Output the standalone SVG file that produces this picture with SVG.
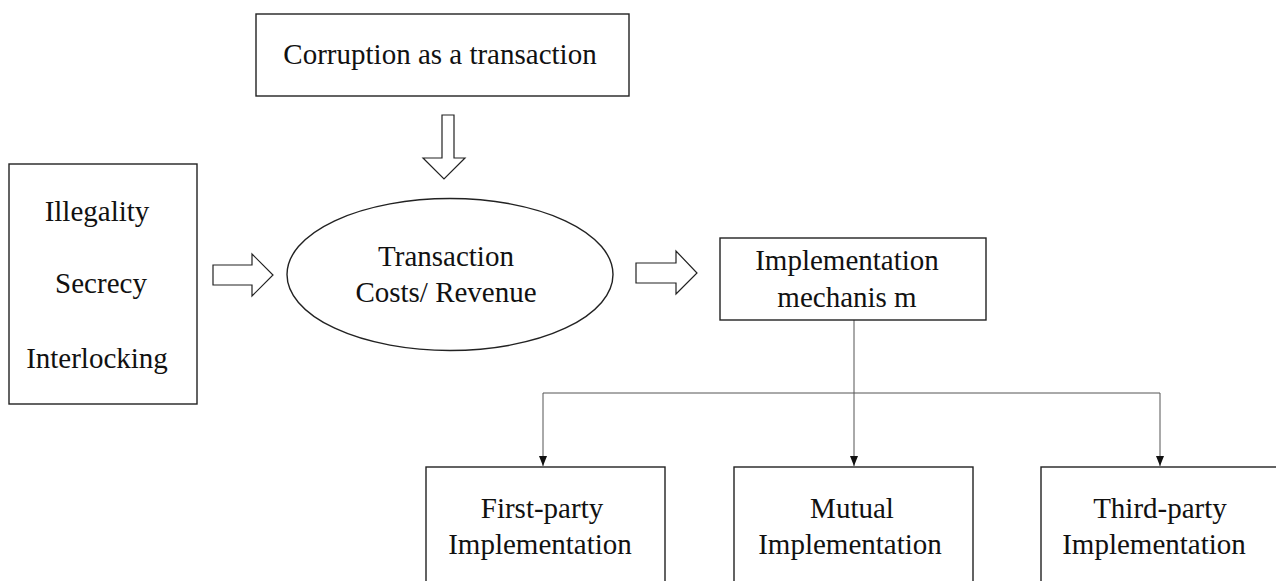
<svg xmlns="http://www.w3.org/2000/svg" width="1276" height="581" viewBox="0 0 1276 581">
<defs>
<style>
.box{fill:#fff;stroke:#222;stroke-width:1.4}
.blk{fill:#fff;stroke:#222;stroke-width:1.2;stroke-linejoin:miter}
.t{font-family:"Liberation Serif","Times New Roman",serif;font-size:29px;fill:#111;text-anchor:middle}
.ln{fill:none;stroke:#555;stroke-width:1}
</style>
<marker id="ah" markerWidth="10" markerHeight="10" viewBox="0 0 10 10" refX="10" refY="5" orient="auto" markerUnits="userSpaceOnUse">
<path d="M0,1 L10,5 L0,9 Z" fill="#111"/>
</marker>
</defs>
<rect width="1276" height="581" fill="#fff"/>

<g id="connectors">
<polygon class="blk" points="442,115 454,115 454,158 465,158 444,179 423,158 442,158"/>
<polygon class="blk" points="213,265 252,265 252,254 273,275 252,296 252,285 213,285"/>
<polygon class="blk" points="636,263 676,263 676,251 697,273 676,294 676,283 636,283"/>
<path class="ln" d="M854,320 V393"/>
<path class="ln" d="M543,393 H1160"/>
<path class="ln" d="M543,393 V466" marker-end="url(#ah)"/>
<path class="ln" d="M854,393 V466" marker-end="url(#ah)"/>
<path class="ln" d="M1160,393 V466" marker-end="url(#ah)"/>
</g>

<g id="corruption">
<rect class="box" x="256" y="14" width="373" height="82"/>
<text class="t" x="440" y="64">Corruption as a transaction</text>
</g>

<g id="factors">
<rect class="box" x="9" y="164" width="188" height="240"/>
<text class="t" x="97" y="221">Illegality</text>
<text class="t" x="101" y="293">Secrecy</text>
<text class="t" x="97" y="368">Interlocking</text>
</g>

<g id="transaction">
<ellipse class="box" cx="450" cy="274.5" rx="163" ry="76"/>
<text class="t" x="446" y="266">Transaction</text>
<text class="t" x="446" y="302">Costs/ Revenue</text>
</g>

<g id="mechanism">
<rect class="box" x="720" y="238" width="266" height="82"/>
<text class="t" x="847" y="270">Implementation</text>
<text class="t" x="847" y="307">mechanis m</text>
</g>

<g id="first-party">
<rect class="box" x="426" y="467" width="239" height="130"/>
<text class="t" x="542" y="518">First-party</text>
<text class="t" x="540" y="554">Implementation</text>
</g>

<g id="mutual">
<rect class="box" x="734" y="467" width="239" height="130"/>
<text class="t" x="852" y="518">Mutual</text>
<text class="t" x="850" y="554">Implementation</text>
</g>

<g id="third-party">
<rect class="box" x="1041" y="467" width="239" height="130"/>
<text class="t" x="1160" y="518">Third-party</text>
<text class="t" x="1154" y="554">Implementation</text>
</g>
</svg>
